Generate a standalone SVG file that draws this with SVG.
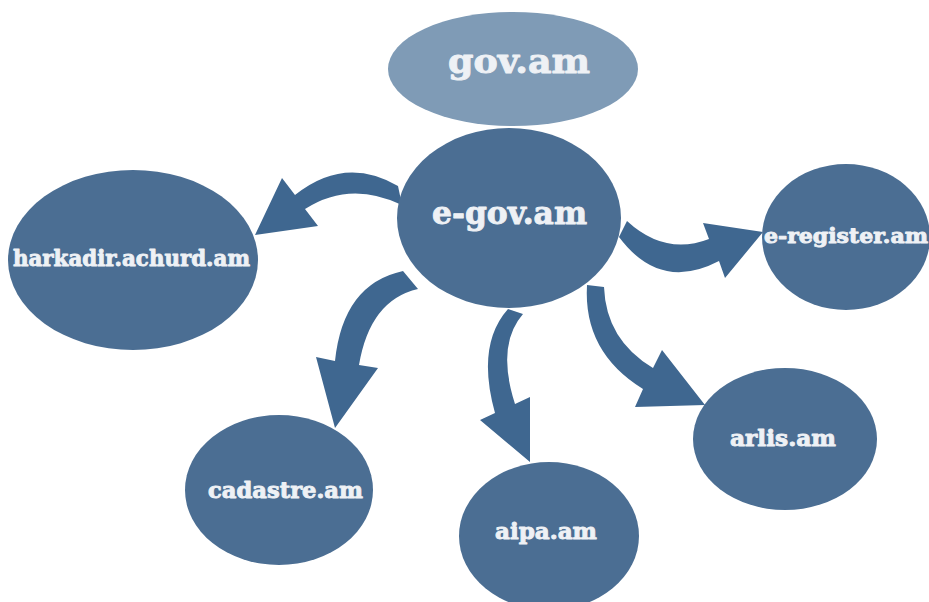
<svg xmlns="http://www.w3.org/2000/svg" width="929" height="602" viewBox="0 0 929 602">
<style>
.node{fill:#4b6e93}
.top{fill:#7f9bb6}
.arrow{fill:#3f6790}
.lbl{font-family:"DejaVu Serif","Liberation Serif",serif;font-weight:bold;fill:#eef1f5;stroke:#eef1f5;stroke-width:0.9;stroke-linejoin:round;text-anchor:start}
</style>
<rect width="929" height="602" fill="#ffffff"/>
<g id="connectors">
<path class="arrow" d="M398,186 Q345,155 295,195 L282,178 L255,235 L318,226 L305,209 Q350,180 402,205 Z"/>
<path class="arrow" d="M627,221 Q665,256 709,239 L703,223 L763,232 L725,278 L719,261 Q660,292 619,237 Z"/>
<path class="arrow" d="M403,271 Q343,284 335,361 L316,357 L335,428 L378,368 L359,365 Q370,300 418,289 Z"/>
<path class="arrow" d="M508,309 Q476,345 495,413 L480,420 L530,462 L530,397 L515,404 Q496,345 523,314 Z"/>
<path class="arrow" d="M587,285 Q583,352 643,389 L635,407 L705,405 L662,350 L653,368 Q606,340 604,287 Z"/>
</g>
<g id="gov">
<ellipse class="top" cx="513" cy="69" rx="125" ry="57"/>
<text class="lbl" x="448" y="73" font-size="34" textLength="142" lengthAdjust="spacingAndGlyphs">gov.am</text>
</g>
<g id="egov">
<ellipse class="node" cx="509" cy="218" rx="112" ry="90"/>
<text class="lbl" x="432" y="224" font-size="32" textLength="155" lengthAdjust="spacingAndGlyphs">e-gov.am</text>
</g>
<g id="harkadir">
<ellipse class="node" cx="133" cy="260" rx="125" ry="90"/>
<text class="lbl" x="13" y="266" font-size="22" textLength="237" lengthAdjust="spacingAndGlyphs">harkadir.achurd.am</text>
</g>
<g id="eregister">
<ellipse class="node" cx="846" cy="237" rx="84" ry="73"/>
<text class="lbl" x="764" y="243" font-size="20" textLength="164" lengthAdjust="spacingAndGlyphs">e-register.am</text>
</g>
<g id="cadastre">
<ellipse class="node" cx="279" cy="490" rx="94" ry="75"/>
<text class="lbl" x="208" y="498" font-size="22" textLength="155" lengthAdjust="spacingAndGlyphs">cadastre.am</text>
</g>
<g id="aipa">
<ellipse class="node" cx="549" cy="536" rx="90" ry="74"/>
<text class="lbl" x="495" y="539" font-size="22" textLength="102" lengthAdjust="spacingAndGlyphs">aipa.am</text>
</g>
<g id="arlis">
<ellipse class="node" cx="785" cy="439" rx="92" ry="71"/>
<text class="lbl" x="730" y="446" font-size="22" textLength="106" lengthAdjust="spacingAndGlyphs">arlis.am</text>
</g>
</svg>
